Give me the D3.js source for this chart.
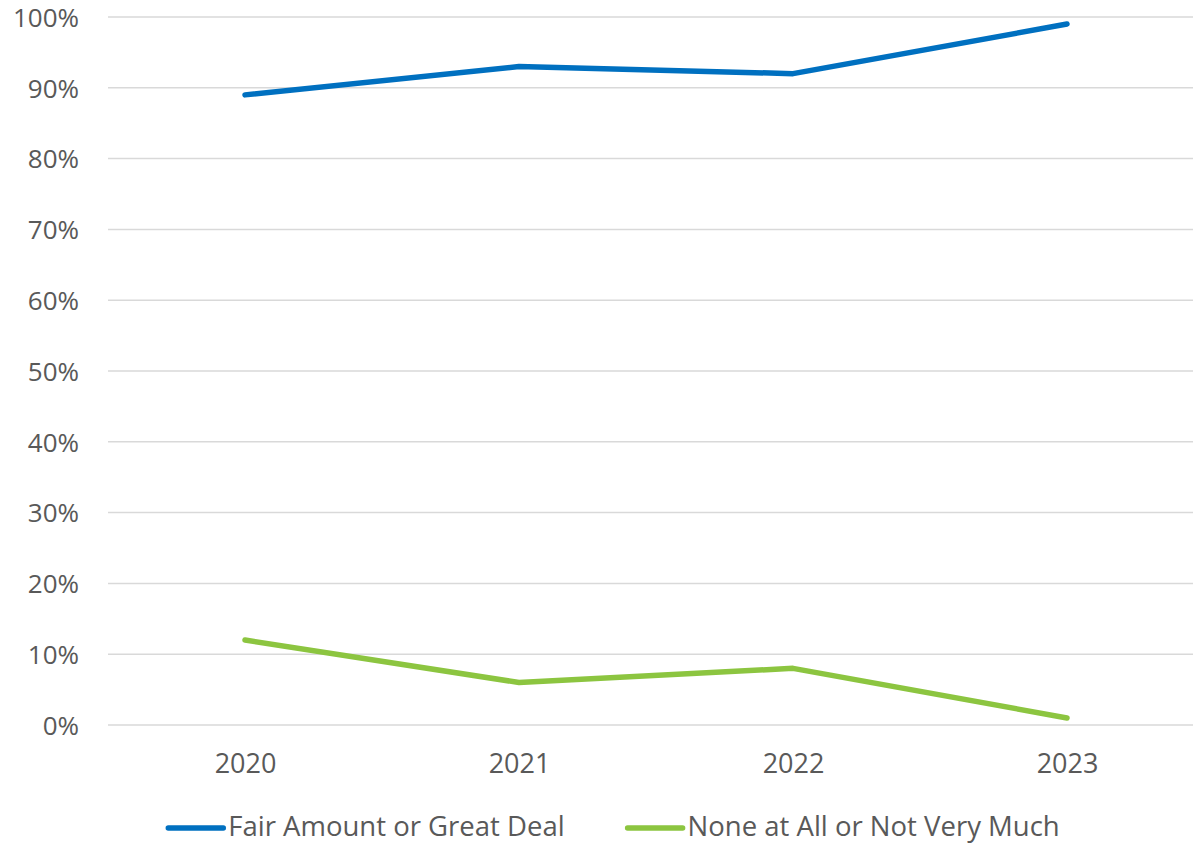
<!DOCTYPE html>
<html>
<head>
<meta charset="utf-8">
<script src="https://cdn.jsdelivr.net/npm/d3@7"></script>
<style>
  body { margin: 0; background: #fff; }
  text { font-family: "Open Sans", sans-serif; fill: #595959; }
</style>
</head>
<body>
<div id="chart"></div>
<script>
// chart data
var years = ["2020", "2021", "2022", "2023"];
var fairAmount = [0.89, 0.93, 0.92, 0.99];
var noneAtAll = [0.12, 0.06, 0.08, 0.01];
var yTicks = [0, 0.1, 0.2, 0.3, 0.4, 0.5, 0.6, 0.7, 0.8, 0.9, 1.0];

var series = [
  { name: "Fair Amount or Great Deal", values: fairAmount, color: "#0070C0" },
  { name: "None at All or Not Very Much", values: noneAtAll, color: "#8CC540" }
];

var width = 1193, height = 843;
var yFont = 26;
var xFont = 27;
var legendFont = 27.5;

var svg = d3.select("#chart")
  .append("svg")
    .attr("width", width)
    .attr("height", height);

var x = d3.scalePoint()
  .domain(years)
  .range([108, 1204])
  .padding(0.5);

var y = d3.scaleLinear()
  .domain([0, 1])
  .range([725, 17]);

// gridlines
svg.append("g")
  .selectAll("line")
  .data(yTicks)
  .join("line")
    .attr("x1", 108)
    .attr("x2", width)
    .attr("y1", d => y(d))
    .attr("y2", d => y(d))
    .attr("stroke", "#D9D9D9")
    .attr("stroke-width", 1.5);

// y axis labels
var yAxis = svg.append("g")
  .attr("transform", "translate(79,0)")
  .call(d3.axisLeft(y).tickValues(yTicks).tickFormat(d3.format(".0%")).tickSize(0).tickPadding(0));
yAxis.select(".domain").remove();
yAxis.selectAll("text")
  .attr("font-size", yFont)
  .attr("font-family", null)
  .attr("fill", null)
  .attr("dy", "0.36em");

// x axis labels
var xAxis = svg.append("g")
  .attr("transform", "translate(0,747)")
  .call(d3.axisBottom(x).tickSize(0).tickPadding(0));
xAxis.select(".domain").remove();
xAxis.selectAll("text")
  .attr("font-size", xFont)
  .attr("font-family", null)
  .attr("fill", null)
  .attr("dy", "0.95em");

// lines
var line = d3.line()
  .x((d, i) => x(years[i]))
  .y(d => y(d));

svg.append("g")
  .selectAll("path")
  .data(series)
  .join("path")
    .attr("d", d => line(d.values))
    .attr("fill", "none")
    .attr("stroke", d => d.color)
    .attr("stroke-width", 5.5)
    .attr("stroke-linecap", "round")
    .attr("stroke-linejoin", "round");

// legend
var legend = svg.append("g");
var items = legend.selectAll("g")
  .data(series)
  .join("g");
items.append("line")
  .attr("x1", 0).attr("x2", 55)
  .attr("y1", 0).attr("y2", 0)
  .attr("stroke", d => d.color)
  .attr("stroke-width", 5.5)
  .attr("stroke-linecap", "round");
items.append("text")
  .attr("x", 60)
  .attr("dy", "0.3em")
  .attr("font-size", legendFont)
  .text(d => d.name);

var offset = 0;
items.each(function () {
  d3.select(this).attr("transform", "translate(" + offset + ",0)");
  offset += 60 + this.querySelector("text").getComputedTextLength() + 63;
});
var total = offset - 63;
legend.attr("transform", "translate(" + (614 - total / 2) + ",828)");
</script>
</body>
</html>
